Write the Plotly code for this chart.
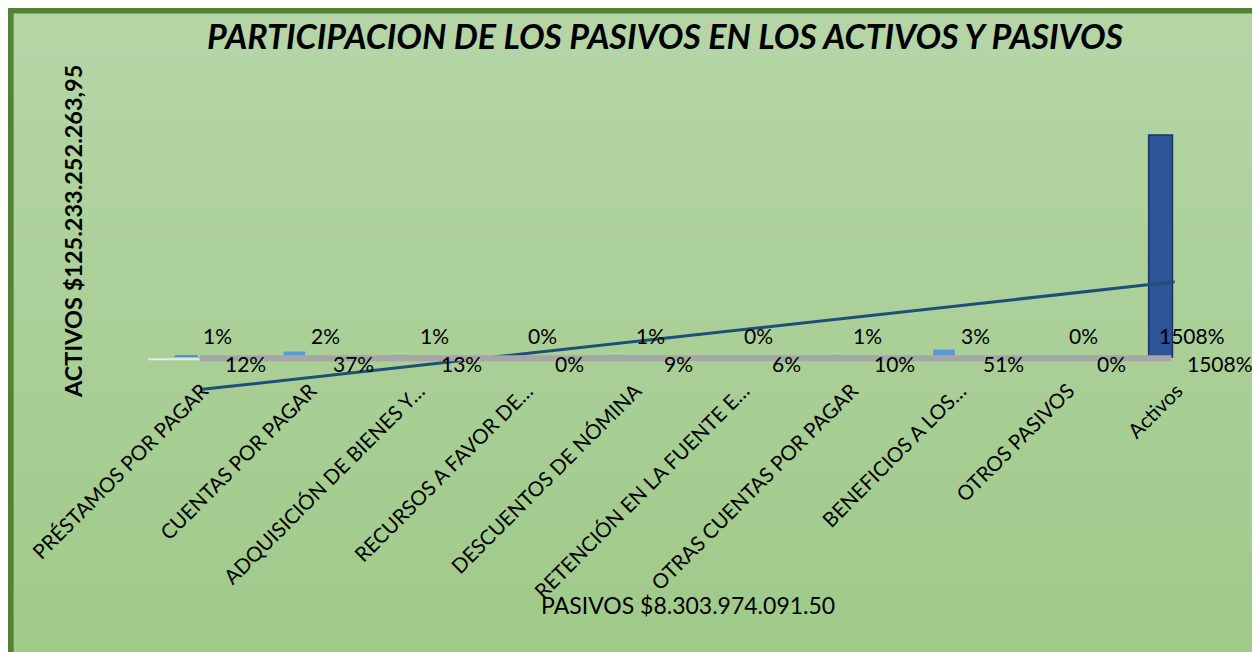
import numpy as np
import plotly.graph_objects as go

# ---------------- data ----------------
categories = ["PRÉSTAMOS POR PAGAR", "CUENTAS POR PAGAR", "ADQUISICIÓN DE BIENES Y…",
              "RECURSOS A FAVOR DE…", "DESCUENTOS DE NÓMINA", "RETENCIÓN EN LA FUENTE E…",
              "OTRAS CUENTAS POR PAGAR", "BENEFICIOS A LOS…", "OTROS PASIVOS", "Activos"]
pct_activos = [1, 2, 1, 0, 1, 0, 1, 3, 0, 1508]      # front series labels
pct_pasivos = [12, 37, 13, 0, 9, 6, 10, 51, 0, 1508]  # back series labels
title_text = "PARTICIPACION DE LOS PASIVOS EN LOS ACTIVOS Y PASIVOS"
y_title = "ACTIVOS $125.233.252.263,95"
x_title = "PASIVOS $8.303.974.091.50"

# ---------------- geometry (page body has an 8px margin) ----------------
OFF = 8
W, H = 1260 - OFF, 652 - OFF
XMIN, XMAX = -0.5, 9.9
CAT = 108.25
L = 186 - OFF - (0 - XMIN) * CAT
PW = (XMAX - XMIN) * CAT
R = W - L - PW
T = 60 - OFF
BOT = 430 - OFF
B = H - BOT
PH = BOT - T
FONT = "Lato, Carlito, Calibri, sans-serif"

def px_x(px):  # reference-screen px -> paper
    return (px - OFF - L) / PW

def px_y(py):
    return (BOT - (py - OFF)) / PH

# y scale: baseline at ref 357, 1508 reaches ref 135
base_px = 357
scale = (357 - 135) / 1508.0
y_lo = -(430 - base_px) / scale
y_hi = (base_px - 60) / scale

n = len(categories)
idx = np.arange(n)

fig = go.Figure()

# background gradient strips + border
top_c = np.array([182, 214, 167])
bot_c = np.array([159, 202, 137])
shapes = []
nstrip = 40
y0p, y1p = 8, 670
for k in range(nstrip):
    a = y0p + (y1p - y0p) * k / nstrip
    b = y0p + (y1p - y0p) * (k + 1) / nstrip + 1
    c = top_c + (bot_c - top_c) * (k + 0.5) / nstrip
    shapes.append(dict(type="rect", xref="paper", yref="paper", layer="below",
                       x0=px_x(8), x1=px_x(1270), y0=px_y(a), y1=px_y(b),
                       fillcolor="rgb(%d,%d,%d)" % tuple(c.astype(int)), line_width=0))
shapes.append(dict(type="rect", xref="paper", yref="paper", layer="below",
                   x0=px_x(10.5), x1=px_x(1259), y0=px_y(10.5), y1=px_y(680),
                   fillcolor="rgba(0,0,0,0)", line=dict(color="#548235", width=6)))

# bars
colors_back = ["#5b9bd5"] * (n - 1) + ["#2e5396"]
colors_front = ["#4a86c8"] * (n - 1) + ["#2e5396"]
line_w = [0] * (n - 1) + [1.5]
fig.add_trace(go.Bar(x=idx, y=pct_pasivos, width=0.2, marker=dict(color=colors_back, line=dict(width=0)),
                     showlegend=False, hoverinfo="skip"))
fig.add_trace(go.Bar(x=idx, y=pct_activos, width=0.22,
                     marker=dict(color=colors_front, line=dict(color="#1c3461", width=line_w)),
                     showlegend=False, hoverinfo="skip"))

# floor (3D base)
shapes.append(dict(type="line", xref="x", yref="y", layer="above",
                   x0=0.13, x1=9.1, y0=-9, y1=-9, line=dict(color="#a6a6a6", width=6)))
shapes.append(dict(type="line", xref="x", yref="y", layer="above",
                   x0=-0.35, x1=0.12, y0=-16, y1=-16, line=dict(color="#e4ece2", width=2)))

# linear trendline fitted to the back series
slope, intercept = np.polyfit(idx, pct_pasivos, 1)
tx = np.array([0, n - 1])
fig.add_trace(go.Scatter(x=tx + 0.13, y=slope * tx + intercept - 20, mode="lines",
                         line=dict(color="#1f4e79", width=3), showlegend=False, hoverinfo="skip"))

# data labels
ann = []
for i in range(n):
    ann.append(dict(x=i + 0.29, y=0, xref="x", yref="y", yshift=22, showarrow=False,
                    text="%d%%" % pct_activos[i], font=dict(family=FONT, size=21, color="black")))
    ann.append(dict(x=i + 0.545, y=0, xref="x", yref="y", yshift=-6, showarrow=False,
                    text="%d%%" % pct_pasivos[i], font=dict(family=FONT, size=21, color="black")))

ann.append(dict(x=px_x(73), y=px_y(232), xref="paper", yref="paper", showarrow=False,
                xanchor="center", yanchor="middle", text=y_title, textangle=-90,
                font=dict(family=FONT, size=23.5, color="black", weight="bold")))
ann.append(dict(x=px_x(688), y=px_y(605), xref="paper", yref="paper", showarrow=False,
                xanchor="center", yanchor="middle", text=x_title,
                font=dict(family=FONT, size=23, color="black")))

fig.update_layout(
    width=W, height=H,
    margin=dict(l=L, r=R, t=T, b=B),
    paper_bgcolor="white", plot_bgcolor="rgba(0,0,0,0)",
    barmode="overlay",
    shapes=shapes, annotations=ann,
    title=dict(text=title_text, x=(665 - OFF) / W, xref="container", xanchor="center",
               y=1 - (37 - OFF) / H, yref="container", yanchor="middle",
               font=dict(family=FONT, size=34, color="black", weight="bold", style="italic")),
    xaxis=dict(range=[XMIN, XMAX], tickvals=idx + 0.15, ticktext=categories,
               tickangle=-45, showgrid=False, zeroline=False, showline=False, ticks="",
               anchor="free", position=px_y(374), automargin=False,
               tickfont=dict(family=FONT, size=20.5, color="black")),
    yaxis=dict(range=[y_lo, y_hi], visible=False, showgrid=False, zeroline=False),
)

fig.write_html("out.html")
